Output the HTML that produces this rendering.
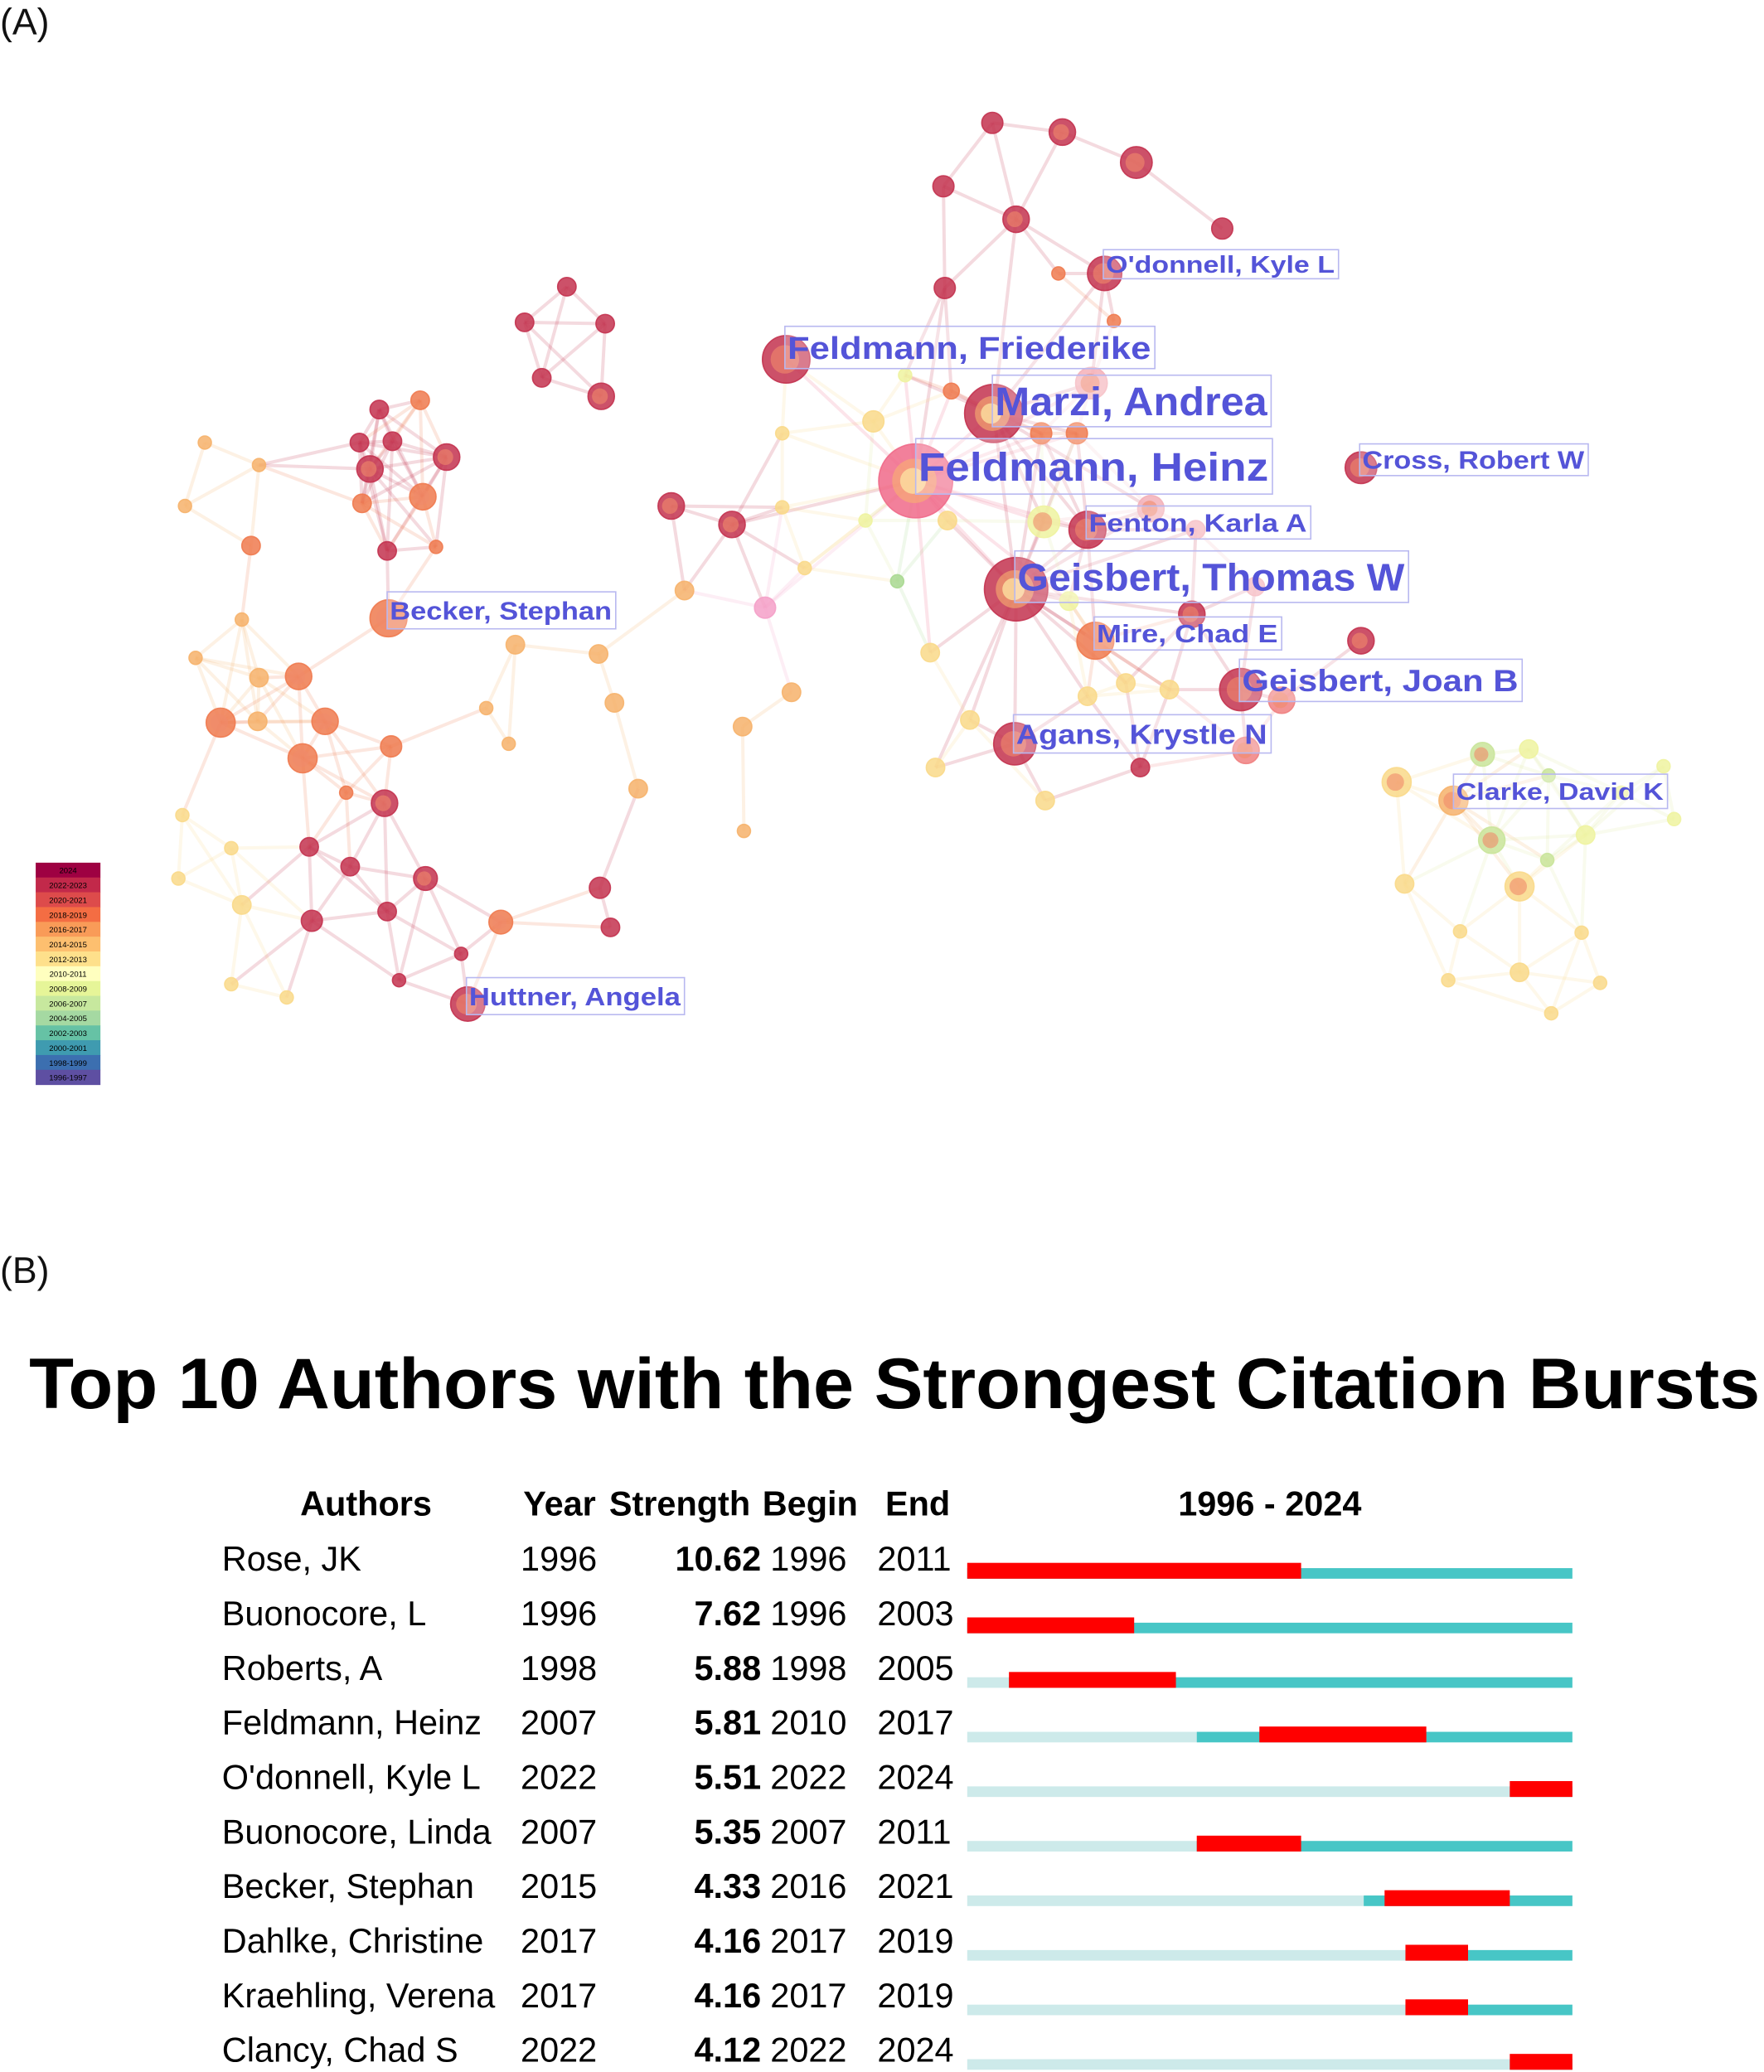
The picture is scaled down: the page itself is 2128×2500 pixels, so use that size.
<!DOCTYPE html>
<html><head><meta charset="utf-8"><style>
html,body{margin:0;padding:0;background:#fff}
svg{display:block}
</style></head><body>
<svg id="root" width="2128" height="2500" viewBox="0 0 1335 1568.4" xmlns="http://www.w3.org/2000/svg" font-family="'Liberation Sans', sans-serif">
<text x="0" y="26" font-size="28" fill="#111">(A)</text>
<text x="0" y="971" font-size="28" fill="#111">(B)</text>
<g id="edges"></g>
<g id="nodes"></g>
<g id="labels"></g>
<g id="legend"></g>
<text x="22" y="1066" font-size="54" font-weight="bold" textLength="1310" lengthAdjust="spacingAndGlyphs" fill="#000">Top 10 Authors with the Strongest Citation Bursts</text>
<g id="table" font-size="26" fill="#000"></g>
</svg>
<script>
var NS='http://www.w3.org/2000/svg';
function mk(tag,attrs,parent){var e=document.createElementNS(NS,tag);for(var k in attrs)e.setAttribute(k,attrs[k]);parent.appendChild(e);return e;}
var R='#c3324f',O='#ef7a4f',P='#f6b26b',Y='#f9d98a',L='#eef3a0',G='#c9e49a';
var nodes=[
[751,93,8,R],[804,100,10,R],[860,123,12,R],[925,173,8,R],[769,166,10,R],[714,141,8,R],[715,218,8,R],[836,207,13,R],
[429,217,7,R],[397,244,7,R],[458,245,7,R],[410,286,7,R],[455,300,10,R],
[287,310,7,R],[318,303,7,O],[272,335,7,R],[297,334,7,R],[338,346,10,R],[280,355,10,R],[320,376,10,O],[274,381,7,O],[293,417,7,R],[330,414,5,O],
[155,335,5,P],[196,352,5,P],[140,383,5,P],[190,413,7,O],[294,468,14,O],[183,469,5,P],[148,498,5,P],[226,512,10,O],[196,513,7,P],[167,547,11,O],[195,546,7,P],[246,546,10,O],[229,574,11,O],[262,600,5,O],[296,565,8,O],[291,608,10,R],[138,617,5,Y],[175,642,5,Y],[234,641,7,R],[265,656,7,R],[135,665,5,Y],[183,685,7,Y],[236,697,8,R],[293,690,7,R],[322,665,9,R],[349,722,5,R],[302,742,5,R],[379,698,9,O],[454,672,8,R],[462,702,7,R],[354,760,13,R],[175,745,5,Y],[217,755,5,Y],[390,488,7,P],[453,495,7,P],[465,532,7,P],[368,536,5,P],[385,563,5,P],
[508,383,10,R],[554,397,10,R],[579,460,8,'#f4a0c8'],[518,447,7,P],[599,524,7,P],[562,550,7,P],[483,597,7,P],[563,629,5,P],[592,328,5,Y],[592,384,5,Y],[609,430,5,Y],[655,394,5,L],[679,440,5,'#a8d890'],[661,319,8,Y],
[693,364,28,'#f06a8a'],[752,313,22,R],[595,272,18,R],[769,446,24,R],[823,401,14,R],[829,485,14,O],[939,522,16,R],[768,563,16,R],[1030,354,12,R],[871,385,10,'#f3b0b8'],[902,465,10,R],[1030,485,10,R],[970,530,10,'#f08080'],[943,568,10,'#f08080'],[863,581,7,R],[790,395,12,L],[826,290,12,'#f4b0b8'],[788,328,8,O],[815,328,8,O],[720,296,6,O],[843,243,5,O],[801,207,5,O],[685,284,5,L],[704,494,7,Y],[717,394,7,Y],[734,545,7,Y],[708,581,7,Y],[791,606,7,Y],[885,522,7,Y],[852,517,7,Y],[823,527,7,Y],[809,455,7,L],[950,444,7,'#f4b0b8'],[905,401,7,'#f4b0b8'],
[1057,592,11,Y],[1100,606,11,P],[1122,571,9,G],[1157,567,7,L],[1129,636,10,G],[1150,671,11,Y],[1200,632,7,L],[1171,651,5,G],[1227,600,5,L],[1259,580,5,L],[1267,620,5,L],[1172,587,5,G],[1063,669,7,Y],[1105,705,5,Y],[1197,706,5,Y],[1150,736,7,Y],[1096,742,5,Y],[1211,744,5,Y],[1174,767,5,Y]
];
var eg=document.getElementById('edges'),ng=document.getElementById('nodes');
for(var i=0;i<nodes.length;i++)for(var j=i+1;j<nodes.length;j++){
 var a=nodes[i],b=nodes[j],d=Math.hypot(a[0]-b[0],a[1]-b[1]);
 if(d<(a[2]+b[2]>30?160:85)){var l=mk('line',{x1:a[0],y1:a[1],x2:b[0],y2:b[1],stroke:a[3]==G||a[3]==L?'#dfeaa0':a[3],'stroke-width':2.5,'stroke-opacity':0.18},eg);
 }
}
nodes.forEach(function(n){
 var c=mk('circle',{cx:n[0],cy:n[1],r:n[2],fill:n[3],'fill-opacity':0.85,stroke:n[3],'stroke-opacity':0.9},ng);
 
 if(n[2]>=9){var c2=mk('circle',{cx:n[0]-1,cy:n[1],r:n[2]*0.6,fill:n[2]>20?'#f9b070':'#f08a6a','fill-opacity':0.6},ng);
 }
 if(n[2]>20){var c3=mk('circle',{cx:n[0]-2,cy:n[1],r:n[2]*0.35,fill:'#fde0a0','fill-opacity':0.8},ng);
 }
});
var labs=[["O'donnell, Kyle L",835,1013,189,211,18],["Feldmann, Friederike",594,874,247,279,24],["Marzi, Andrea",751,962,284,323,30],["Feldmann, Heinz",693,963,332,374,30],["Cross, Robert W",1029,1202,336,360,19],["Fenton, Karla A",822,992,383,408,19],["Geisbert, Thomas W",768,1066,417,456,29],["Mire, Chad E",828,970,467,492,19],["Geisbert, Joan B",938,1152,499,531,23],["Agans, Krystle N",767,962,541,570,21],["Clarke, David K",1100,1262,586,612,18],["Becker, Stephan",293,466,448,476,19],["Huttner, Angela",353,518,740,768,19]];
var lg=document.getElementById('labels');
labs.forEach(function(t){
 var r=mk('rect',{x:t[1],y:t[3],width:t[2]-t[1],height:t[4]-t[3],fill:'#fff','fill-opacity':0.25,stroke:'#b8b8f0','stroke-width':1},lg);
 
 var tx=mk('text',{x:t[1]+2,y:(t[3]+t[4])/2+t[5]*0.36,'font-size':t[5],'font-weight':'bold',fill:'#5454d8',textLength:t[2]-t[1]-5,lengthAdjust:'spacingAndGlyphs'},lg);
 tx.textContent=t[0];
});
var legLabels=['2024','2022-2023','2020-2021','2018-2019','2016-2017','2014-2015','2012-2013','2010-2011','2008-2009','2006-2007','2004-2005','2002-2003','2000-2001','1998-1999','1996-1997'];
var legCols=['#9e0142','#c2294a','#dd4b4b','#f46d43','#f99b58','#fdbf6f','#fee08b','#ffffbf','#e6f598','#c7e89e','#a5d9a2','#66c2a5','#3f9bb0','#3c6fb0','#5e4fa2'];
var lgd=document.getElementById('legend'),lh=(821-653)/15;
legLabels.forEach(function(s,i){
 var r=mk('rect',{x:27,y:653+i*lh,width:49,height:lh+0.3,fill:legCols[i]},lgd);
 
 var t=mk('text',{x:51.5,y:653+i*lh+lh*0.72,'font-size':6,'text-anchor':'middle',fill:'#000'},lgd);
 t.textContent=s;
});
// table data
var authors=['Rose, JK','Buonocore, L','Roberts, A','Feldmann, Heinz',"O'donnell, Kyle L",'Buonocore, Linda','Becker, Stephan','Dahlke, Christine','Kraehling, Verena','Clancy, Chad S'];
var years=[1996,1996,1998,2007,2022,2007,2015,2017,2017,2022];
var strengths=['10.62','7.62','5.88','5.81','5.51','5.35','4.33','4.16','4.16','4.12'];
var begins=[1996,1996,1998,2010,2022,2007,2016,2017,2017,2022];
var ends=[2011,2003,2005,2017,2024,2011,2021,2019,2019,2024];
var Y0=1996,Y1=2024,BX0=732,BX1=1190;
function xs(y){return BX0+(y-Y0)/(Y1+1-Y0)*(BX1-BX0);}
var tb=document.getElementById('table');
function txt(s,x,y,anc,bold,name){var t=mk('text',{x:x,y:y,'text-anchor':anc,'font-weight':bold?'bold':'normal'},tb);t.textContent=s;return t;}
txt('Authors',277,1147,'middle',true,'header-authors');
txt('Year',396,1147,'start',true,'header-year');
txt('Strength',461,1147,'start',true,'header-strength');
txt('Begin',577,1147,'start',true,'header-begin');
txt('End',670,1147,'start',true,'header-end');
txt('1996 - 2024',961,1147,'middle',true,'header-range');
authors.forEach(function(a,i){
 var cy=1180+i*41.3,ty=cy+9;
 txt(a,168,ty,'start',false,'author-name');
 txt(String(years[i]),394,ty,'start',false,'author-year');
 txt(strengths[i],576,ty,'end',true,'burst-strength');
 txt(String(begins[i]),583,ty,'start',false,'burst-begin');
 txt(String(ends[i]),664,ty,'start',false,'burst-end');
 var by=cy+7;
 if(years[i]>Y0){var r0=mk('rect',{x:xs(Y0),y:by,width:xs(years[i])-xs(Y0),height:8,fill:'#cdeaea'},tb);}
 var r1=mk('rect',{x:xs(years[i]),y:by,width:xs(Y1+1)-xs(years[i]),height:8,fill:'#47c6c6'},tb);
 
 var r2=mk('rect',{x:xs(begins[i]),y:by-4,width:xs(ends[i]+1)-xs(begins[i]),height:12,fill:'#ff0000'},tb);
 
});
</script>
</body></html>
